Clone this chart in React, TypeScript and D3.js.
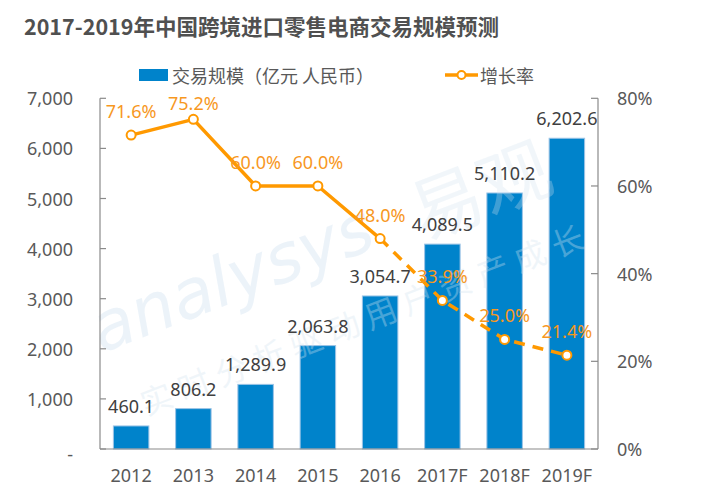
import React from "react";
import * as d3 from "d3";

const categories = ["2012", "2013", "2014", "2015", "2016", "2017F", "2018F", "2019F"];
const volume = [460.1, 806.2, 1289.9, 2063.8, 3054.7, 4089.5, 5110.2, 6202.6];
const growth = [0.716, 0.752, 0.6, 0.6, 0.48, 0.339, 0.25, 0.214];
const leftTicks = [0, 1000, 2000, 3000, 4000, 5000, 6000, 7000];
const rightTicks = [0, 0.2, 0.4, 0.6, 0.8];
const forecastStart = 4; // index from which the line is dashed
const title = "2017-2019年中国跨境进口零售电商交易规模预测";
const legendBar = "交易规模（亿元 人民币）";
const legendLine = "增长率";

const W = 704, H = 489;
const L = 100, R = 598, T = 98.3, B = 449;
const BLUE = "#0083cb";
const ORANGE = "#ff9900";
const LABEL_ORANGE = "#f7981f";
const GRAY = "#595959";
const AXIS = "#8a8a8a";
const FONT = "'Noto Sans', 'Noto Sans CJK SC', sans-serif";
const CJK = "'Noto Sans CJK SC', 'Noto Sans', sans-serif";

export default function App() {
  const x = d3.scaleBand<string>().domain(categories).range([L, R]).paddingInner(0.43).paddingOuter(0.215);
  const yL = d3.scaleLinear().domain([0, 7000]).range([B, T]);
  const yR = d3.scaleLinear().domain([0, 0.8]).range([B, T]);
  const fmtV = d3.format(",.1f");
  const fmtL = d3.format(",");
  const fmtP = d3.format(".1%");
  const cx = (c: string) => (x(c) as number) + x.bandwidth() / 2;
  const pts: [number, number][] = categories.map((c, i) => [cx(c), yR(growth[i])]);
  const line = d3.line();
  const solid = line(pts.slice(0, forecastStart + 1)) || "";
  const dashed = line(pts.slice(forecastStart)) || "";

  return (
    <svg width={W} height={H} style={{ position: "absolute", left: 0, top: 0, background: "#fff" }} fontFamily={FONT}>
      <text x={24} y={35} fontFamily={CJK} fontWeight="bold" fontSize={21.5} fill="#505050">{title}</text>

      {/* legend */}
      <rect x={139} y={69} width={29} height={12} fill={BLUE} />
      <text x={172} y={75} dominantBaseline="central" fontFamily={CJK} fontSize={18} fill={GRAY}>{legendBar}</text>
      <line x1={445} x2={478} y1={75} y2={75} stroke={ORANGE} strokeWidth={3.5} />
      <circle cx={461.5} cy={75} r={4} fill="#fff" stroke={ORANGE} strokeWidth={2} />
      <text x={480} y={75} dominantBaseline="central" fontFamily={CJK} fontSize={18} fill={GRAY}>{legendLine}</text>

      {/* bars */}
      {categories.map((c, i) => (
        <rect key={c} x={x(c)} y={yL(volume[i])} width={x.bandwidth()} height={B - yL(volume[i])}
          fill={BLUE} stroke="#9cc4e6" strokeWidth={1} />
      ))}

      {/* watermark */}
      <g pointerEvents="none">
        <g transform="translate(240,300) rotate(-21)">
          <text x={0} y={0} textAnchor="middle" fontFamily="'DejaVu Sans', sans-serif" fontStyle="italic" fontSize={68} fill="#cfe2f1" fillOpacity={0.4}>analysys</text>
        </g>
        <g transform="translate(490,215) rotate(-21)">
          <text x={0} y={0} textAnchor="middle" fontFamily={CJK} fontSize={72} fill="#cfe1f0" fillOpacity={0.3}>易观</text>
        </g>
        <g transform="translate(370,330) rotate(-21)">
          <text x={0} y={0} textAnchor="middle" fontFamily={CJK} fontSize={32} fill="#d3e3f0" fillOpacity={0.35} letterSpacing={8}>实时分析驱动用户资产成长</text>
        </g>
      </g>

      {/* bar labels */}
      {categories.map((c, i) => (
        <text key={c} x={cx(c)} y={yL(volume[i]) - 20} textAnchor="middle" dominantBaseline="central" fontSize={18} fill="#404040">{fmtV(volume[i])}</text>
      ))}

      {/* axes */}
      <line x1={L} x2={L} y1={T} y2={B} stroke={AXIS} strokeWidth={1.2} />
      <line x1={R} x2={R} y1={T} y2={B} stroke={AXIS} strokeWidth={1.2} />
      <line x1={L} x2={R} y1={B} y2={B} stroke={AXIS} strokeWidth={1.2} />
      {leftTicks.map((t) => (
        <g key={"l" + t}>
          <line x1={L} x2={L + 6} y1={yL(t)} y2={yL(t)} stroke={AXIS} strokeWidth={1.2} />
          <text x={73} y={yL(t) + (t === 0 ? 5 : 0)} textAnchor="end" dominantBaseline="central" fontSize={18} fill={GRAY}>{t === 0 ? "-" : fmtL(t)}</text>
        </g>
      ))}
      {rightTicks.map((t) => (
        <g key={"r" + t}>
          <line x1={R - 7} x2={R} y1={yR(t)} y2={yR(t)} stroke={AXIS} strokeWidth={1.2} />
          <text x={617} y={yR(t)} dominantBaseline="central" fontSize={18} fill={GRAY}>{d3.format(".0%")(t)}</text>
        </g>
      ))}
      {categories.map((c) => (
        <text key={"c" + c} x={cx(c)} y={475} textAnchor="middle" dominantBaseline="central" fontSize={18} fill={GRAY}>{c}</text>
      ))}

      {/* growth line */}
      <path d={solid} fill="none" stroke={ORANGE} strokeWidth={3.5} strokeLinejoin="round" />
      <path d={dashed} fill="none" stroke={ORANGE} strokeWidth={3.5} strokeDasharray="11,8" />
      {pts.map(([px, py], i) => (
        <circle key={"p" + i} cx={px} cy={py} r={4.5} fill="#fff" stroke={ORANGE} strokeWidth={2} />
      ))}
      {pts.map(([px, py], i) => (
        <text key={"g" + i} x={px} y={Math.max(py - 24, 103)} textAnchor="middle" dominantBaseline="central" fontSize={18} fill={LABEL_ORANGE}>{fmtP(growth[i])}</text>
      ))}
    </svg>
  );
}
